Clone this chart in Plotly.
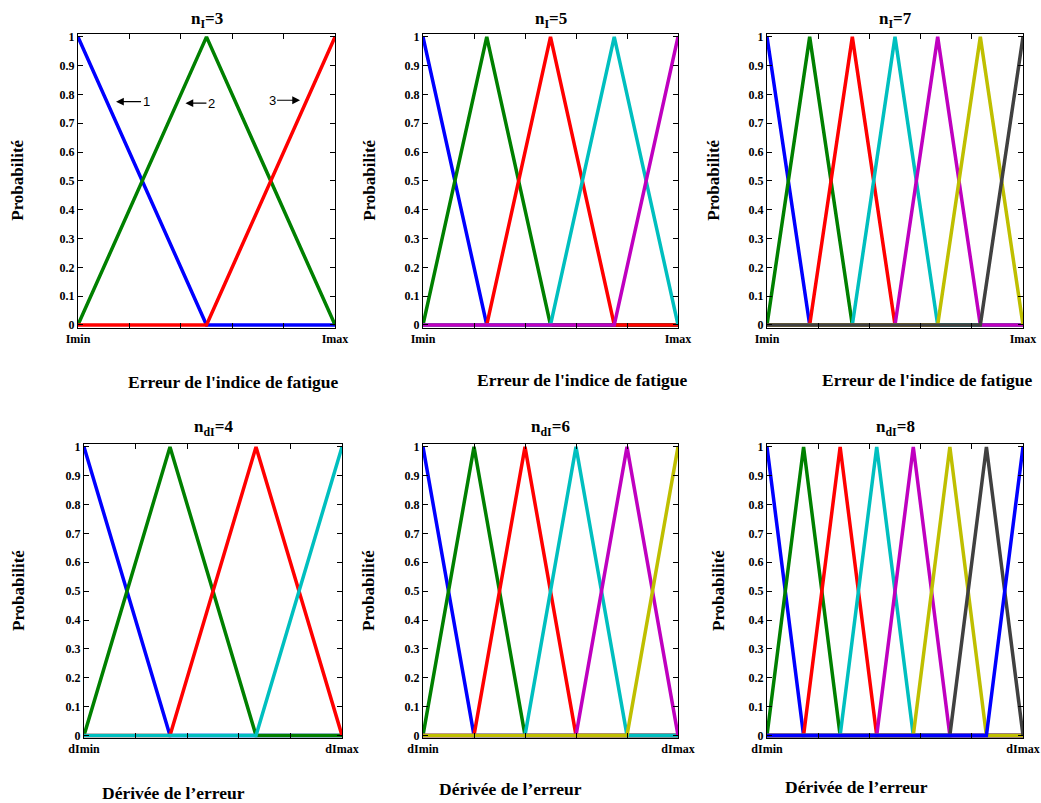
import plotly.graph_objects as go

# ---- data ----
peaks_nI3 = [0, 0.5, 1]
peaks_nI5 = [0, 0.25, 0.5, 0.75, 1]
peaks_nI7 = [0, 0.1667, 0.3333, 0.5, 0.6667, 0.8333, 1]
peaks_ndI4 = [0, 0.3333, 0.6667, 1]
peaks_ndI6 = [0, 0.2, 0.4, 0.6, 0.8, 1]
peaks_ndI8 = [0, 0.1429, 0.2857, 0.4286, 0.5714, 0.7143, 0.8571, 1]

panel_titles = ["n<sub>I</sub>=3", "n<sub>I</sub>=5", "n<sub>I</sub>=7",
                "n<sub>dI</sub>=4", "n<sub>dI</sub>=6", "n<sub>dI</sub>=8"]
x_tickvals = [0, 1]
x_minor_ticks = [0.2, 0.4, 0.6, 0.8]
x_ticktext_top = ["Imin", "Imax"]
x_ticktext_bottom = ["dImin", "dImax"]
y_tickvals = [0, 0.1, 0.2, 0.3, 0.4, 0.5, 0.6, 0.7, 0.8, 0.9, 1]
y_ticktext = ["0", "0.1", "0.2", "0.3", "0.4", "0.5", "0.6", "0.7", "0.8", "0.9", "1"]
x_title_top = "Erreur de l'indice de fatigue"
x_title_bottom = "Dérivée de l’erreur"
y_title = "Probabilité"

colors = ["#0000FF", "#008000", "#FF0000", "#00BFBF", "#BF00BF", "#BFBF00", "#404040", "#0000FF"]

all_peaks = [peaks_nI3, peaks_nI5, peaks_nI7, peaks_ndI4, peaks_ndI6, peaks_ndI8]

# ---- layout geometry (pixels) ----
W, H = 1041, 803
panels_px = [  # (x0, x1, ytop, ybottom)
    (78, 335, 34, 327.5), (423, 678, 34, 327.5), (767, 1023, 34, 327.5),
    (84, 342, 444, 738), (423, 678, 444, 738), (767, 1023, 444, 738),
]
title_y = [20, 20, 20, 428, 428, 428]
ytitle_x = [18, 370, 714, 18, 368, 718]
xtitle_pos = [(233, 382), (582, 380), (927, 380), (173, 793), (510, 789), (856, 787)]

FONT = "Liberation Serif"
fig = go.Figure()
annotations = []

for i, peaks in enumerate(all_peaks):
    xa = "x" if i == 0 else f"x{i+1}"
    ya = "y" if i == 0 else f"y{i+1}"
    n = len(peaks)
    for k in range(n):
        xs, ys = [], []
        if k > 0:
            xs += [0, peaks[k - 1]]
            ys += [0, 0]
        xs.append(peaks[k]); ys.append(1)
        if k < n - 1:
            xs += [peaks[k + 1], 1]
            ys += [0, 0]
        fig.add_trace(go.Scatter(x=xs, y=ys, mode="lines", xaxis=xa, yaxis=ya,
                                 line=dict(color=colors[k], width=3.5),
                                 showlegend=False, hoverinfo="skip"))
    x0, x1, yt, yb = panels_px[i]
    axkey = "xaxis" if i == 0 else f"xaxis{i+1}"
    aykey = "yaxis" if i == 0 else f"yaxis{i+1}"
    ttext = x_ticktext_top if i < 3 else x_ticktext_bottom
    fig.update_layout(**{
        axkey: dict(domain=[x0 / W, x1 / W], range=[0, 1], anchor=ya, automargin=False,
                    tickvals=x_tickvals, ticktext=ttext,
                    ticks="inside", ticklen=5, tickcolor="black",
                    minor=dict(tickvals=x_minor_ticks, ticks="inside", ticklen=5,
                               tickcolor="black", showgrid=False),
                    showline=True, linecolor="black", linewidth=1, mirror="allticks",
                    showgrid=False, zeroline=False,
                    tickfont=dict(family=FONT, size=12, color="black", weight="bold")),
        aykey: dict(domain=[1 - yb / H, 1 - yt / H], range=[-0.009, 1.01], anchor=xa,
                    automargin=False,
                    tickvals=y_tickvals, ticktext=y_ticktext,
                    ticks="inside", ticklen=5, tickcolor="black",
                    showline=True, linecolor="black", linewidth=1, mirror="allticks",
                    showgrid=False, zeroline=False,
                    tickfont=dict(family=FONT, size=12, color="black", weight="bold")),
    })
    # panel title
    annotations.append(dict(text=panel_titles[i], x=(x0 + x1) / 2 / W, y=1 - title_y[i] / H,
                            xref="paper", yref="paper", showarrow=False,
                            xanchor="center", yanchor="middle",
                            font=dict(family=FONT, size=17, color="black", weight="bold")))
    # y title
    annotations.append(dict(text=y_title, x=ytitle_x[i] / W, y=1 - (yt + yb) / 2 / H,
                            xref="paper", yref="paper", showarrow=False, textangle=-90,
                            xanchor="center", yanchor="middle",
                            font=dict(family=FONT, size=17, color="black", weight="bold")))
    # x title
    xt = x_title_top if i < 3 else x_title_bottom
    annotations.append(dict(text=xt, x=xtitle_pos[i][0] / W, y=1 - xtitle_pos[i][1] / H,
                            xref="paper", yref="paper", showarrow=False,
                            xanchor="center", yanchor="middle",
                            font=dict(family=FONT, size=17.5, color="black", weight="bold")))

# arrow labels in first panel
arrow_labels = ["1", "2", "3"]
arrow_tips_x = [0.148, 0.418, 0.864]
arrow_tips_y = [0.775, 0.77, 0.78]
arrow_offsets = [30, 26, -28]
for lab, tx, ty, off in zip(arrow_labels, arrow_tips_x, arrow_tips_y, arrow_offsets):
    annotations.append(dict(text=lab, x=tx, y=ty, xref="x", yref="y", ax=off, ay=0,
                            showarrow=True, arrowhead=2, arrowsize=1.3, arrowwidth=1.2,
                            arrowcolor="black",
                            font=dict(family="Liberation Sans", size=13, color="black")))

fig.update_layout(width=W, height=H, margin=dict(l=0, r=0, t=0, b=0),
                  paper_bgcolor="white", plot_bgcolor="white",
                  annotations=annotations)
fig.write_html("out.html", config={"displayModeBar": False},
               post_script="document.body.style.margin='0';document.body.style.overflow='hidden';")
